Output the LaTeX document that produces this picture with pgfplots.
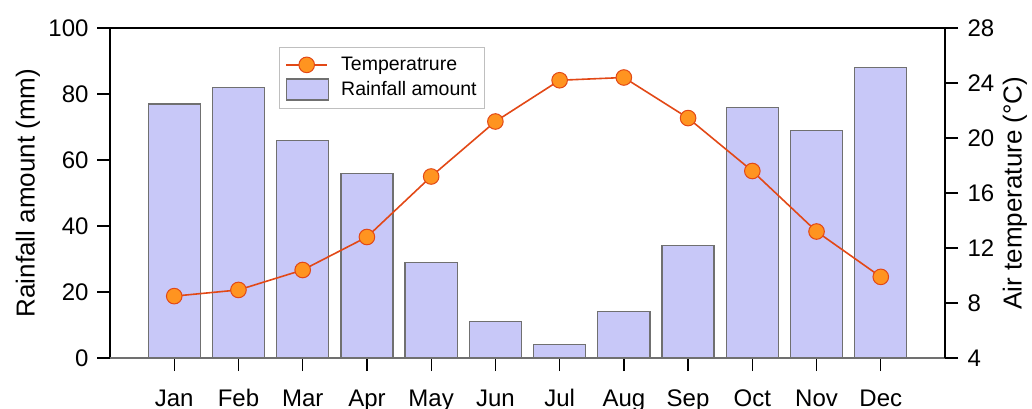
\documentclass[border=0pt]{standalone}
\usepackage{pgfplots}
\pgfplotsset{compat=1.18}
\usepackage{fontspec}
\setmainfont{Liberation Sans}
\definecolor{barfill}{RGB}{200,200,248}
\definecolor{bardraw}{RGB}{112,112,112}
\definecolor{linecol}{RGB}{226,72,22}
\definecolor{markfill}{RGB}{255,148,32}
\pgfplotsset{
  linelegend/.style={legend image code/.code={\draw[mark repeat=2,mark phase=2,##1] plot coordinates {(0pt,0pt) (20.5pt,0pt) (41pt,0pt)};\path[draw=none,fill=none] (0pt,0pt) -- (53pt,0pt);}},
  barlegend/.style={legend image code/.code={\draw[##1] (0pt,-10.5pt) rectangle (42pt,10.5pt);\path[draw=none,fill=none] (0pt,0pt) -- (53pt,0pt);}},
}
\begin{document}
\begin{tikzpicture}
\useasboundingbox (-110pt,-50pt) rectangle (922pt,358pt);
\begin{axis}[
  at={(0pt,0pt)}, anchor=south west,
  scale only axis, width=835pt, height=330pt,
  xmin=-1, xmax=12, ymin=0, ymax=100,
  ytick={0,20,...,100},
  xtick={0,...,11},
  xticklabels={Jan,Feb,Mar,Apr,May,Jun,Jul,Aug,Sep,Oct,Nov,Dec},
  xtick pos=bottom, ytick pos=left,
  tick align=outside,
  major tick length=13pt,
  every tick/.style={black, line width=1.3pt},
  axis line style={black, line width=1.5pt},
  tick label style={font=\fontsize{24}{27}\selectfont},
  /pgf/number format/assume math mode=true,
  xticklabel style={yshift=-15pt},
  yticklabel style={xshift=-5pt},
  ylabel={Rainfall amount (mm)},
  ylabel style={font=\fontsize{26}{29}\selectfont, at={(axis description cs:-0.0982,0.5)}, anchor=center},
]
\addplot[ybar, bar width=0.81, fill=barfill, draw=bardraw, line width=1.3pt] coordinates {
(0,77) (1,82) (2,66) (3,56) (4,29) (5,11) (6,4) (7,14) (8,34) (9,76) (10,69) (11,88)};
\draw[bardraw, line width=1.5pt] (rel axis cs:0,0) -- (rel axis cs:1,0);
\end{axis}
\begin{axis}[
  at={(0pt,0pt)}, anchor=south west,
  scale only axis, width=835pt, height=330pt,
  xmin=-1, xmax=12, ymin=4, ymax=28,
  ytick={4,8,...,28},
  axis x line=none,
  axis y line*=right,
  tick align=outside,
  major tick length=13pt,
  every tick/.style={black, line width=1.3pt},
  axis line style={black, line width=1.5pt},
  tick label style={font=\fontsize{24}{27}\selectfont},
  /pgf/number format/assume math mode=true,
  yticklabel style={xshift=6pt},
  ylabel={Air temperature (°C)},
  ylabel style={font=\fontsize{26}{29}\selectfont, at={(axis description cs:1.0838,0.5)}, anchor=center},
  legend style={at={(axis description cs:0.2024,0.9424)}, anchor=north west,
    draw=black!25, line width=0.8pt, font=\fontsize{19.5}{22}\selectfont,
    inner xsep=6pt, inner ysep=8pt, row sep=4pt, cells={anchor=west}},
]
\addplot[color=linecol, line width=1.6pt, mark=*, mark size=7.8pt,
  mark options={fill=markfill, draw=linecol, line width=1pt}, linelegend]
 coordinates {
(0,8.5) (1,8.95) (2,10.4) (3,12.8) (4,17.2) (5,21.2) (6,24.2) (7,24.4) (8,21.45) (9,17.6) (10,13.2) (11,9.9)};
\addlegendentry{Temperatrure}
\addlegendimage{fill=barfill, draw=bardraw, line width=1.3pt, barlegend}
\addlegendentry{Rainfall amount}
\end{axis}
\end{tikzpicture}
\end{document}
